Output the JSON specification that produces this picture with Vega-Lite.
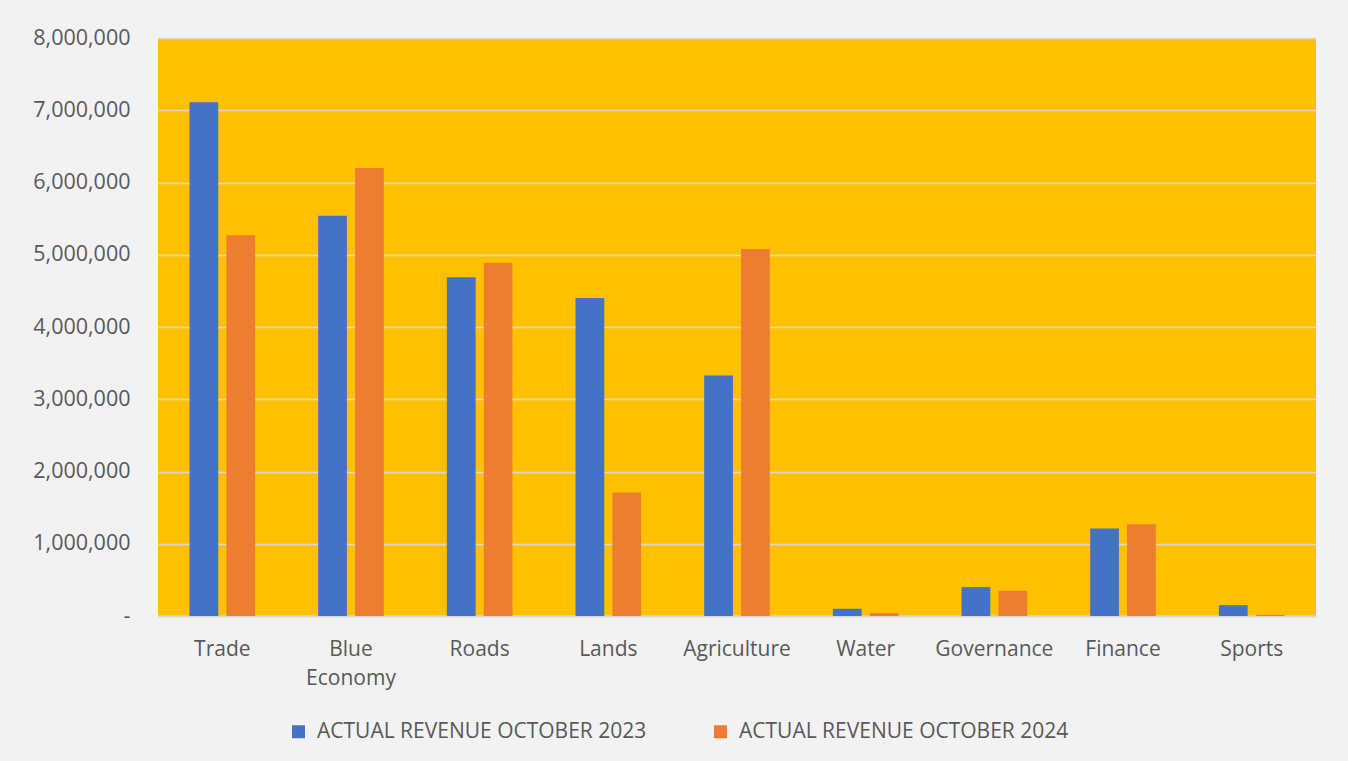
{
  "$schema": "https://vega.github.io/schema/vega-lite/v6.json",
  "width": 1158,
  "height": 578,
  "autosize": {"type": "none"},
  "padding": {"left": 158, "top": 38, "right": 32, "bottom": 145},
  "background": "#F2F2F2",
  "data": {
    "values": [
      {"dept": "Trade", "series": "ACTUAL REVENUE OCTOBER 2023", "value": 7110000},
      {"dept": "Trade", "series": "ACTUAL REVENUE OCTOBER 2024", "value": 5270000},
      {"dept": "Blue Economy", "series": "ACTUAL REVENUE OCTOBER 2023", "value": 5540000},
      {"dept": "Blue Economy", "series": "ACTUAL REVENUE OCTOBER 2024", "value": 6200000},
      {"dept": "Roads", "series": "ACTUAL REVENUE OCTOBER 2023", "value": 4690000},
      {"dept": "Roads", "series": "ACTUAL REVENUE OCTOBER 2024", "value": 4890000},
      {"dept": "Lands", "series": "ACTUAL REVENUE OCTOBER 2023", "value": 4400000},
      {"dept": "Lands", "series": "ACTUAL REVENUE OCTOBER 2024", "value": 1710000},
      {"dept": "Agriculture", "series": "ACTUAL REVENUE OCTOBER 2023", "value": 3330000},
      {"dept": "Agriculture", "series": "ACTUAL REVENUE OCTOBER 2024", "value": 5080000},
      {"dept": "Water", "series": "ACTUAL REVENUE OCTOBER 2023", "value": 100000},
      {"dept": "Water", "series": "ACTUAL REVENUE OCTOBER 2024", "value": 40000},
      {"dept": "Governance", "series": "ACTUAL REVENUE OCTOBER 2023", "value": 400000},
      {"dept": "Governance", "series": "ACTUAL REVENUE OCTOBER 2024", "value": 350000},
      {"dept": "Finance", "series": "ACTUAL REVENUE OCTOBER 2023", "value": 1210000},
      {"dept": "Finance", "series": "ACTUAL REVENUE OCTOBER 2024", "value": 1270000},
      {"dept": "Sports", "series": "ACTUAL REVENUE OCTOBER 2023", "value": 150000},
      {"dept": "Sports", "series": "ACTUAL REVENUE OCTOBER 2024", "value": 15000}
    ]
  },
  "mark": {"type": "bar"},
  "encoding": {
    "x": {
      "field": "dept",
      "type": "nominal",
      "sort": null,
      "scale": {"paddingInner": 0.49, "paddingOuter": 0.245},
      "axis": {
        "title": null,
        "labelAngle": 0,
        "ticks": false,
        "grid": false,
        "domainColor": "#D9D9D9",
        "domainWidth": 2,
        "labelPadding": 22,
        "labelFont": "Open Sans",
        "labelFontSize": 21,
        "labelColor": "#595959",
        "labelLineHeight": 29,
        "labelBaseline": "top",
        "labelExpr": "datum.label == 'Blue Economy' ? ['Blue', 'Economy'] : datum.label"
      }
    },
    "xOffset": {"field": "series", "type": "nominal", "scale": {"paddingInner": 0.22}},
    "y": {
      "field": "value",
      "type": "quantitative",
      "scale": {"domain": [0, 8000000]},
      "axis": {
        "title": null,
        "values": [0, 1000000, 2000000, 3000000, 4000000, 5000000, 6000000, 7000000, 8000000],
        "ticks": false,
        "domain": false,
        "gridColor": "#D9D9D9",
        "gridWidth": 1.5,
        "labelPadding": 28,
        "labelFont": "Open Sans",
        "labelFontSize": 21.5,
        "labelColor": "#595959",
        "labelExpr": "datum.value == 0 ? '-    ' : format(datum.value, ',')"
      }
    },
    "color": {
      "field": "series",
      "type": "nominal",
      "scale": {"range": ["#4472C4", "#ED7D31"]},
      "legend": {
        "title": null,
        "orient": "none",
        "legendX": 130,
        "legendY": 683,
        "direction": "horizontal",
        "symbolType": "square",
        "symbolSize": 169,
        "symbolStrokeWidth": 0,
        "labelFont": "Open Sans",
        "labelFontSize": 21,
        "labelColor": "#595959",
        "labelOffset": 8,
        "labelLimit": 0,
        "columnPadding": 63
      }
    }
  },
  "config": {"view": {"fill": "#FFC000", "stroke": null}}
}
